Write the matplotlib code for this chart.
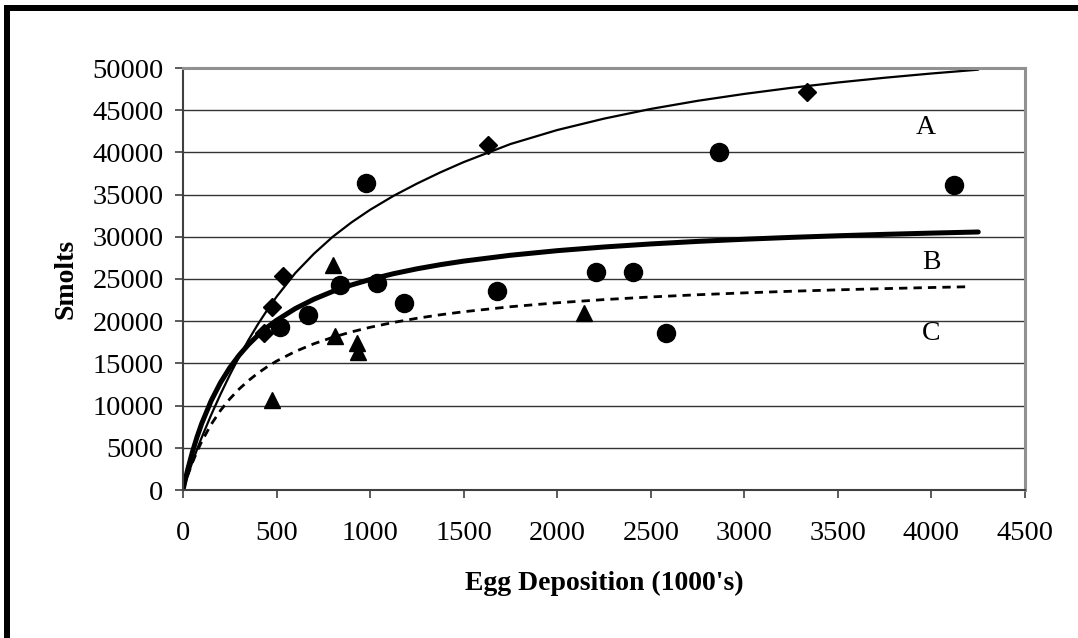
import matplotlib.pyplot as plt
from matplotlib.patches import Rectangle

plt.rcParams["font.family"] = ["Liberation Serif", "DejaVu Serif"]

# observed stock/recruit pairs (eggs in 1000's, smolts)
eggs_a = [434, 475, 532, 1631, 3333]
smolts_a = [18560, 21720, 25390, 40880, 47160]

eggs_b = [518, 666, 839, 976, 1035, 1182, 1676, 2206, 2406, 2580, 2863, 4119]
smolts_b = [19350, 20730, 24290, 36410, 24490, 22190, 23580, 25790, 25870,
            18560, 40050, 36140]

eggs_c = [474, 803, 814, 928, 937, 2142]
smolts_c = [10660, 26660, 18250, 17380, 16390, 20970]

# fitted curves
curve_x = [0, 10, 25, 50, 75, 100, 150, 200, 250, 300, 350, 400, 450, 500,
           600, 700, 800, 900, 1000, 1125, 1250, 1375, 1500, 1750, 2000,
           2250, 2500, 2750, 3000, 3250, 3500, 3750, 4000, 4250]
curve_a = [0, 700, 1700, 3300, 4800, 6225, 8875, 11325, 13625, 15775, 17775,
           19625, 21325, 22900, 25700, 28000, 30000, 31700, 33200, 34850,
           36300, 37630, 38850, 40990, 42650, 44000, 45150, 46110, 46929,
           47648, 48282, 48845, 49349, 49802]
curve_b = [0, 1005, 2401, 4476, 6285, 7878, 10551, 12708, 14484, 15972,
           17238, 18326, 19273, 20104, 21494, 22611, 23527, 24293, 24943,
           25628, 26205, 26696, 27119, 27812, 28356, 28793, 29154, 29455,
           29711, 29931, 30122, 30290, 30438, 30570]
curve_c_x = curve_x[:-1] + [4200]
curve_c = [0, 716, 1718, 3225, 4556, 5741, 7758, 9413, 10793, 11963, 12967,
           13838, 14601, 15275, 16411, 17331, 18092, 18731, 19277, 19855,
           20343, 20760, 21121, 21715, 22183, 22560, 22872, 23134, 23356,
           23548, 23715, 23861, 23991, 24084]

curve_labels = ["A", "B", "C"]
label_x = [3970, 4000, 4000]
label_y = [43000, 26900, 18600]

W, H = 1078, 638
fig = plt.figure(figsize=(W / 100, H / 100), dpi=100)
ax = fig.add_axes([183 / W, 1 - 490 / H, 842 / W, 422 / H])

ax.yaxis.grid(True, color="#333333", linewidth=1.0)
ax.set_axisbelow(True)

ax.plot(curve_x, curve_a, color="black", linewidth=1.6, solid_capstyle="round",
        solid_joinstyle="round")
ax.plot(curve_x, curve_b, color="black", linewidth=3.6, solid_capstyle="round",
        solid_joinstyle="round")
ax.plot(curve_c_x, curve_c, color="black", linewidth=2.0,
        linestyle=(0, (3, 2.2)))

ax.plot(eggs_a, smolts_a, linestyle="none", marker="D", markersize=9.5,
        color="black")
ax.plot(eggs_b, smolts_b, linestyle="none", marker="o", markersize=13,
        color="black")
ax.plot(eggs_c, smolts_c, linestyle="none", marker="^", markersize=11,
        color="black")

for lab, lx, ly in zip(curve_labels, label_x, label_y):
    ax.text(lx, ly, lab, fontsize=20, ha="center", va="center")

ax.set_xlim(0, 4500)
ax.set_ylim(0, 50000)
ax.set_xticks(range(0, 4501, 500))
ax.set_yticks(range(0, 50001, 5000))
ax.tick_params(direction="out", length=6, width=1.2, color="#404040",
               labelsize=20.5)
ax.tick_params(axis="x", pad=16)
ax.tick_params(axis="y", pad=8)

for side in ["left", "bottom"]:
    ax.spines[side].set_color("#404040")
    ax.spines[side].set_linewidth(1.5)
for side in ["top", "right"]:
    ax.spines[side].set_color("#909090")
    ax.spines[side].set_linewidth(2.2)

ax.set_xlabel("Egg Deposition (1000's)", fontsize=20, fontweight="bold",
              labelpad=18)
ax.set_ylabel("Smolts", fontsize=20, fontweight="bold", labelpad=10)

# heavy frame along the top and left edges
fig.add_artist(Rectangle((4 / W, 1 - 11 / H), 1, 6 / H, color="black",
                         transform=fig.transFigure, linewidth=0))
fig.add_artist(Rectangle((4 / W, -0.01), 6 / W, 1.01 - 5 / H, color="black",
                         transform=fig.transFigure, linewidth=0))

fig.savefig("out.png", dpi=100)
